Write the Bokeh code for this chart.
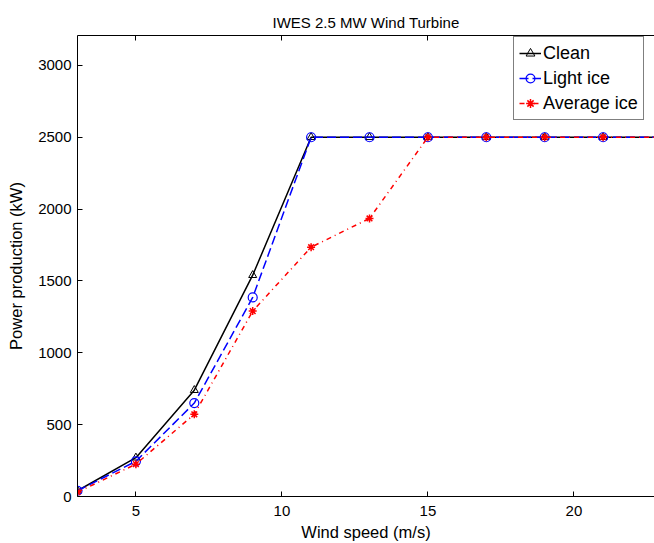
from bokeh.plotting import figure
from bokeh.models import LinearAxis, Range1d, Legend, LegendItem, FixedTicker
from bokeh.embed import file_html
from bokeh.resources import INLINE

wind = [3, 5, 7, 9, 11, 13, 15, 17, 19, 21, 23, 25]
clean = [40, 270, 740, 1540, 2500, 2500, 2500, 2500, 2500, 2500, 2500, 2500]
light_ice = [40, 245, 650, 1385, 2500, 2500, 2500, 2500, 2500, 2500, 2500, 2500]
average_ice = [30, 225, 572, 1290, 1735, 1935, 2500, 2500, 2500, 2500, 2500, 2500]
x_ticks = [5, 10, 15, 20]
y_ticks = [0, 500, 1000, 1500, 2000, 2500, 3000]

FONT = "Liberation Sans"

p = figure(width=654, height=543, output_backend="svg", toolbar_location=None,
           x_range=Range1d(3, 22.76), y_range=Range1d(0, 3208),
           title="IWES 2.5 MW Wind Turbine")
p.min_border_left = 77
p.min_border_right = 0
p.min_border_top = 35
p.min_border_bottom = 46
p.outline_line_color = None
p.grid.visible = False
p.background_fill_color = "white"

p.title.align = "center"
p.title.text_font = FONT
p.title.text_font_size = "15px"
p.title.text_font_style = "normal"
p.title.text_color = "black"
p.title.standoff = 10

for ax in (p.xaxis[0], p.yaxis[0]):
    ax.major_tick_in = 5
    ax.major_tick_out = 0
    ax.minor_tick_line_color = None
    ax.major_label_text_font = FONT
    ax.major_label_text_font_size = "15px"
    ax.major_label_text_color = "black"
    ax.axis_label_text_font = FONT
    ax.axis_label_text_font_size = "16.5px"
    ax.axis_label_text_font_style = "normal"
    ax.axis_label_text_color = "black"
    ax.axis_line_color = "black"
    ax.major_tick_line_color = "black"

p.xaxis[0].ticker = FixedTicker(ticks=x_ticks)
p.yaxis[0].ticker = FixedTicker(ticks=y_ticks)
p.xaxis[0].axis_label = "Wind speed (m/s)"
p.yaxis[0].axis_label = "Power production (kW)"
p.xaxis[0].major_label_standoff = 9
p.yaxis[0].major_label_standoff = 6
p.xaxis[0].axis_label_standoff = 4
p.yaxis[0].axis_label_standoff = 10

top = LinearAxis(ticker=FixedTicker(ticks=x_ticks))
top.major_tick_in = 5
top.major_tick_out = 0
top.minor_tick_line_color = None
top.major_label_overrides = {t: "" for t in x_ticks}
top.major_label_standoff = 6
top.axis_line_color = "black"
p.add_layout(top, "above")

l1 = p.line(wind, clean, line_color="black", line_width=1.5)
m1 = p.scatter(wind, clean, marker="triangle", size=8, fill_color=None,
               line_color="black", line_width=1)
l2 = p.line(wind, light_ice, line_color="blue", line_width=1.5, line_dash="9 4")
m2 = p.scatter(wind, light_ice, marker="circle", size=9, fill_color=None,
               line_color="blue", line_width=1.2)
l3 = p.line(wind, average_ice, line_color="red", line_width=1.5, line_dash="5 4 1 4")
m3 = p.scatter(wind, average_ice, marker="asterisk", size=8,
               line_color="red", line_width=1.5)

legend = Legend(items=[
    LegendItem(label="Clean", renderers=[l1, m1]),
    LegendItem(label="Light ice", renderers=[l2, m2]),
    LegendItem(label="Average ice", renderers=[l3, m3]),
], location=(436, 376))
legend.label_text_font = FONT
legend.label_text_font_size = "18px"
legend.label_text_color = "black"
legend.glyph_width = 22
legend.glyph_height = 22
legend.spacing = 3
legend.padding = 5
legend.margin = 0
legend.label_standoff = 2
legend.border_line_color = "black"
legend.border_line_width = 1
legend.background_fill_alpha = 1
p.add_layout(legend, "center")

open("out.html", "w").write(file_html(p, INLINE))
